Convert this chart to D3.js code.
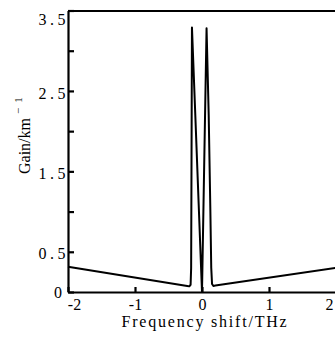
<!DOCTYPE html>
<html>
<head>
<meta charset="utf-8">
<script src="https://cdn.jsdelivr.net/npm/d3@7"></script>
<style>
  body { margin: 0; background: #fff; }
  svg { display: block; }
  .axis path, .axis line { stroke: #000; stroke-width: 2.2; }
  .axis text { font-family: 'Liberation Serif', 'Times New Roman', serif; font-size: 16px; fill: #000; }
</style>
</head>
<body>
<div id="chart"></div>
<script>
// frequency shift (THz) and gain (1/km)
const freq = [-2, -0.22, -0.19, -0.17, -0.162, -0.157, -0.15, -0.1, -0.05, 0,
  0.03, 0.068, 0.1, 0.125, 0.138, 0.15, 0.17, 0.2, 2];
const gain = [0.315, 0.075, 0.07, 0.09, 0.3, 1.5, 3.29, 2.2, 1.1, 0,
  1.45, 3.28, 2.2, 1.0, 0.3, 0.1, 0.075, 0.08, 0.30];

const xTicks = [-2, -1, 0, 1, 2];
const yTicks = [0, 0.5, 1, 1.5, 2, 2.5, 3, 3.5];
const xTitle = 'Frequency shift/THz';
const yTitle = 'Gain/km';

const width = 335, height = 338;
const margin = {left: 68, right: 336, top: 10.5, bottom: 292};

const svg = d3.select('#chart').append('svg')
  .attr('width', width)
  .attr('height', height);

const x = d3.scaleLinear().domain([-2, 2]).range([margin.left, margin.right]);
const y = d3.scaleLinear().domain([0, 3.5]).range([margin.bottom, margin.top]);

// bottom axis, ticks pointing in
const gx = svg.append('g')
  .attr('class', 'axis')
  .attr('transform', 'translate(0,' + margin.bottom + ')')
  .call(d3.axisBottom(x).tickValues(xTicks).tickSizeInner(-5).tickSizeOuter(0).tickPadding(7)
    .tickFormat(d => d < 0 ? '-' + Math.abs(d) : d));
// end labels pulled inside like in the print
gx.selectAll('text').attr('dx', d => d === -2 ? 6 : (d === 2 ? -7 : 0));

// left axis, only the .5 values and 0 are labelled
const gy = svg.append('g')
  .attr('class', 'axis')
  .attr('transform', 'translate(' + margin.left + ',0)')
  .call(d3.axisLeft(y).tickValues(yTicks).tickSizeInner(-6).tickSizeOuter(0).tickPadding(0)
    .tickFormat(d => d === 0 ? '0' : (d % 1 ? d.toFixed(1) : '')));
gy.selectAll('text')
  .style('letter-spacing', d => d === 0 ? '0px' : '3.5px')
  .attr('x', d => d === 0 ? -6 : 1)
  .attr('dy', d => d === 3.5 ? '0.85em' : (d === 0 ? '0.32em' : '0.45em'));

// top and right frame
svg.append('g')
  .attr('class', 'axis')
  .attr('transform', 'translate(0,' + margin.top + ')')
  .call(d3.axisTop(x).tickValues([]).tickSizeOuter(0));
svg.append('g')
  .attr('class', 'axis')
  .attr('transform', 'translate(' + margin.right + ',0)')
  .call(d3.axisRight(y).tickValues([]).tickSizeOuter(0));

// gain curve
const line = d3.line()
  .x((d, i) => x(freq[i]))
  .y(d => y(d));

svg.append('path')
  .datum(gain)
  .attr('d', line)
  .style('fill', 'none')
  .style('stroke', '#000')
  .style('stroke-width', 2)
  .style('stroke-linejoin', 'round');

// axis titles
svg.append('text')
  .text(xTitle)
  .attr('x', 205)
  .attr('y', 327)
  .style('text-anchor', 'middle')
  .style('font-family', "'Liberation Serif', serif")
  .style('font-size', 16)
  .style('letter-spacing', '1.8px');

const yt = svg.append('text')
  .attr('transform', 'translate(30,174) rotate(-90)')
  .style('font-family', "'Liberation Serif', serif")
  .style('font-size', 16);
yt.append('tspan').text(yTitle);
yt.append('tspan').text('\u2212').attr('dx', 4).attr('dy', -8).style('font-size', 11);
yt.append('tspan').text('1').attr('dx', 5).style('font-size', 11);
</script>
</body>
</html>
